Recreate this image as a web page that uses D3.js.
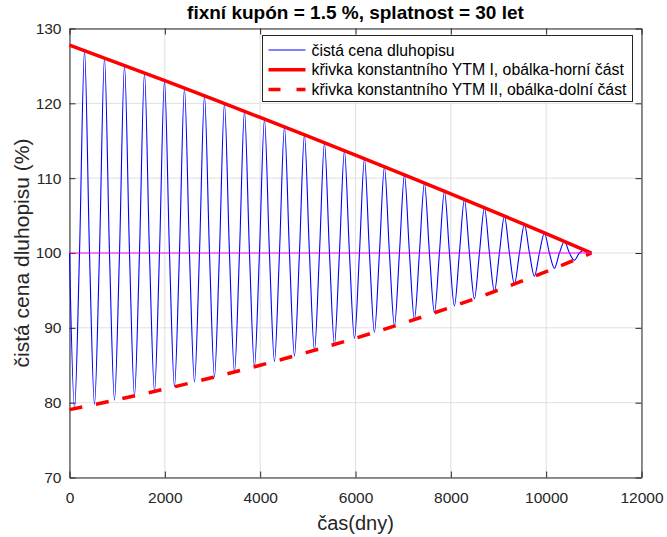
<!DOCTYPE html>
<html>
<head>
<meta charset="utf-8">
<script src="https://cdn.jsdelivr.net/npm/d3@7/dist/d3.min.js"></script>
<style>
    body { margin: 0; background: #fff; }
    text { font-family: "Liberation Sans", Arial, sans-serif; }
</style>
</head>
<body>
<div id="graf"></div>
<script>
// texty
var titulek = "fixní kupón = 1.5 %, splatnost = 30 let";
var popisX = "čas(dny)";
var popisY = "čistá cena dluhopisu (%)";
var legendaTexty = [
    "čistá cena dluhopisu",
    "křivka konstantního YTM I, obálka-horní část",
    "křivka konstantního YTM II, obálka-dolní část"
];
var xTicks = [0, 2000, 4000, 6000, 8000, 10000, 12000];
var yTicks = [70, 80, 90, 100, 110, 120, 130];

// obálky
var obalkaDny = [0, 1000, 2000, 3000, 4000, 5000, 6000, 7000, 8000, 9000, 10000, 10950];
var obalkaHorni = [127.79, 125.42, 123.02, 120.59, 118.12, 115.62, 113.08, 110.51, 107.90, 105.26, 102.58, 100.00];
var obalkaDolni = [79.07, 80.40, 81.83, 83.36, 85.00, 86.75, 88.62, 90.62, 92.76, 95.06, 97.51, 100.00];

// čistá cena - průchody 100, minima a maxima
var cenaDny = [0, 105, 210, 315, 420, 524, 629, 734, 839, 944, 1049, 1154, 1259, 1363, 1468, 1573,
    1678, 1783, 1888, 1993, 2098, 2202, 2307, 2412, 2517, 2622, 2727, 2832, 2937, 3041, 3146, 3251,
    3356, 3461, 3566, 3671, 3776, 3880, 3985, 4090, 4195, 4300, 4405, 4510, 4615, 4719, 4824, 4929,
    5034, 5139, 5244, 5349, 5454, 5558, 5663, 5768, 5873, 5978, 6083, 6188, 6293, 6397, 6502, 6607,
    6712, 6817, 6922, 7027, 7132, 7236, 7341, 7446, 7551, 7656, 7761, 7866, 7971, 8075, 8180, 8285,
    8390, 8495, 8600, 8705, 8810, 8914, 9019, 9124, 9229, 9334, 9439, 9544, 9649, 9753, 9858, 9963,
    10068, 10173, 10278, 10383, 10488, 10592, 10697, 10802, 10907, 10950];
var cenaHodnoty = [100, 79.21, 100, 127.05, 100, 79.76, 100, 126.06, 100, 80.33, 100, 125.06, 100, 80.91, 100, 124.05,
    100, 81.51, 100, 123.04, 100, 82.13, 100, 122.02, 100, 82.77, 100, 121.00, 100, 83.43, 100, 119.97,
    100, 84.10, 100, 118.93, 100, 84.79, 100, 117.90, 100, 85.51, 100, 116.85, 100, 86.24, 100, 115.79,
    100, 87.00, 100, 114.73, 100, 87.77, 100, 113.67, 100, 88.57, 100, 112.60, 100, 89.40, 100, 111.53,
    100, 90.24, 100, 110.44, 100, 91.11, 100, 109.35, 100, 92.01, 100, 108.25, 100, 92.93, 100, 107.15,
    100, 93.88, 100, 106.04, 100, 94.85, 100, 104.93, 100, 95.86, 100, 103.81, 100, 96.89, 100, 102.68,
    100, 97.95, 100, 101.54, 100, 99.04, 100, 100.40, 100, 100];

// nominální hodnota
var parDny = [0, 10950];
var parHodnoty = [100, 100];

var w = 667;
var h = 537;
var margin = { top: 28.5, right: 25.5, bottom: 59.5, left: 69.5 };

var svg = d3
    .select("#graf")
    .append("svg")
    .attr("width", w)
    .attr("height", h);

var x = d3.scaleLinear().domain([0, 12000]).range([margin.left, w - margin.right]);
var y = d3.scaleLinear().domain([70, 130]).range([h - margin.bottom, margin.top]);

var barvaOs = "#262626";

// mřížka
svg.append("g")
    .selectAll("line")
    .data(xTicks)
    .enter()
    .append("line")
    .attr("x1", function (d) { return x(d); })
    .attr("x2", function (d) { return x(d); })
    .attr("y1", y(70))
    .attr("y2", y(130))
    .attr("stroke", "#dfdfdf");

svg.append("g")
    .selectAll("line")
    .data(yTicks)
    .enter()
    .append("line")
    .attr("y1", function (d) { return y(d); })
    .attr("y2", function (d) { return y(d); })
    .attr("x1", x(0))
    .attr("x2", x(12000))
    .attr("stroke", "#dfdfdf");

// osy (ticky dovnitř, box kolem)
function stylOsy(g) {
    g.select(".domain").attr("stroke", barvaOs);
    g.selectAll(".tick line").attr("stroke", barvaOs);
    g.selectAll(".tick text").attr("fill", barvaOs).style("font-size", "15.5px");
}

svg.append("g")
    .attr("transform", "translate(0," + y(70) + ")")
    .call(d3.axisBottom(x).tickValues(xTicks).tickFormat(d3.format("d"))
        .tickSizeInner(-6).tickSizeOuter(0).tickPadding(14))
    .call(stylOsy);

svg.append("g")
    .attr("transform", "translate(0," + y(130) + ")")
    .call(d3.axisTop(x).tickValues(xTicks).tickSizeInner(-6).tickSizeOuter(0).tickFormat(""))
    .call(stylOsy);

svg.append("g")
    .attr("transform", "translate(" + x(0) + ",0)")
    .call(d3.axisLeft(y).tickValues(yTicks).tickSizeInner(-6).tickSizeOuter(0).tickPadding(8))
    .call(stylOsy);

svg.append("g")
    .attr("transform", "translate(" + x(12000) + ",0)")
    .call(d3.axisRight(y).tickValues(yTicks).tickSizeInner(-6).tickSizeOuter(0).tickFormat(""))
    .call(stylOsy);

svg.selectAll("text").attr("font-family", null);

// data
var linka = d3.line()
    .x(function (d) { return x(d[0]); })
    .y(function (d) { return y(d[1]); })
    .curve(d3.curveMonotoneX);

var linkaRovna = d3.line()
    .x(function (d) { return x(d[0]); })
    .y(function (d) { return y(d[1]); });

svg.append("path")
    .datum(d3.zip(cenaDny, cenaHodnoty))
    .attr("fill", "none")
    .attr("stroke", "#0000ff")
    .attr("stroke-width", 1.1)
    .attr("d", linka);

svg.append("path")
    .datum(d3.zip(obalkaDny, obalkaHorni))
    .attr("fill", "none")
    .attr("stroke", "#ff0000")
    .attr("stroke-width", 3.5)
    .attr("d", linka);

svg.append("path")
    .datum(d3.zip(obalkaDny, obalkaDolni))
    .attr("fill", "none")
    .attr("stroke", "#ff0000")
    .attr("stroke-width", 3.5)
    .attr("stroke-dasharray", "13,14")
    .attr("d", linka);

svg.append("path")
    .datum(d3.zip(parDny, parHodnoty))
    .attr("fill", "none")
    .attr("stroke", "#ff00ff")
    .attr("stroke-width", 1)
    .attr("d", linkaRovna);

// titulek a popisky os
svg.append("text")
    .attr("x", (x(0) + x(12000)) / 2)
    .attr("y", 19)
    .attr("text-anchor", "middle")
    .style("font-size", "19px")
    .style("font-weight", "bold")
    .attr("fill", "#000")
    .text(titulek);

svg.append("text")
    .attr("x", (x(0) + x(12000)) / 2)
    .attr("y", 530)
    .attr("text-anchor", "middle")
    .style("font-size", "20px")
    .attr("fill", barvaOs)
    .text(popisX);

svg.append("text")
    .attr("transform", "translate(29," + (y(70) + y(130)) / 2 + ") rotate(-90)")
    .attr("text-anchor", "middle")
    .style("font-size", "21px")
    .attr("fill", barvaOs)
    .text(popisY);

// legenda
var leg = svg.append("g").attr("transform", "translate(262.5,35.5)");
leg.append("rect")
    .attr("width", 370)
    .attr("height", 66)
    .attr("fill", "#fff")
    .attr("stroke", barvaOs);

var legStyly = [
    { barva: "#0000ff", sirka: 1, carky: null },
    { barva: "#ff0000", sirka: 3.5, carky: null },
    { barva: "#ff0000", sirka: 3.5, carky: "12,16" }
];

legendaTexty.forEach(function (t, i) {
    var ry = 14.5 + i * 19.7;
    leg.append("line")
        .attr("x1", 6)
        .attr("x2", 43)
        .attr("y1", ry)
        .attr("y2", ry)
        .attr("stroke", legStyly[i].barva)
        .attr("stroke-width", legStyly[i].sirka)
        .attr("stroke-dasharray", legStyly[i].carky);
    leg.append("text")
        .attr("x", 49)
        .attr("y", ry)
        .attr("dy", "0.35em")
        .style("font-size", "15.8px")
        .attr("fill", "#000")
        .text(t);
});
</script>
</body>
</html>
